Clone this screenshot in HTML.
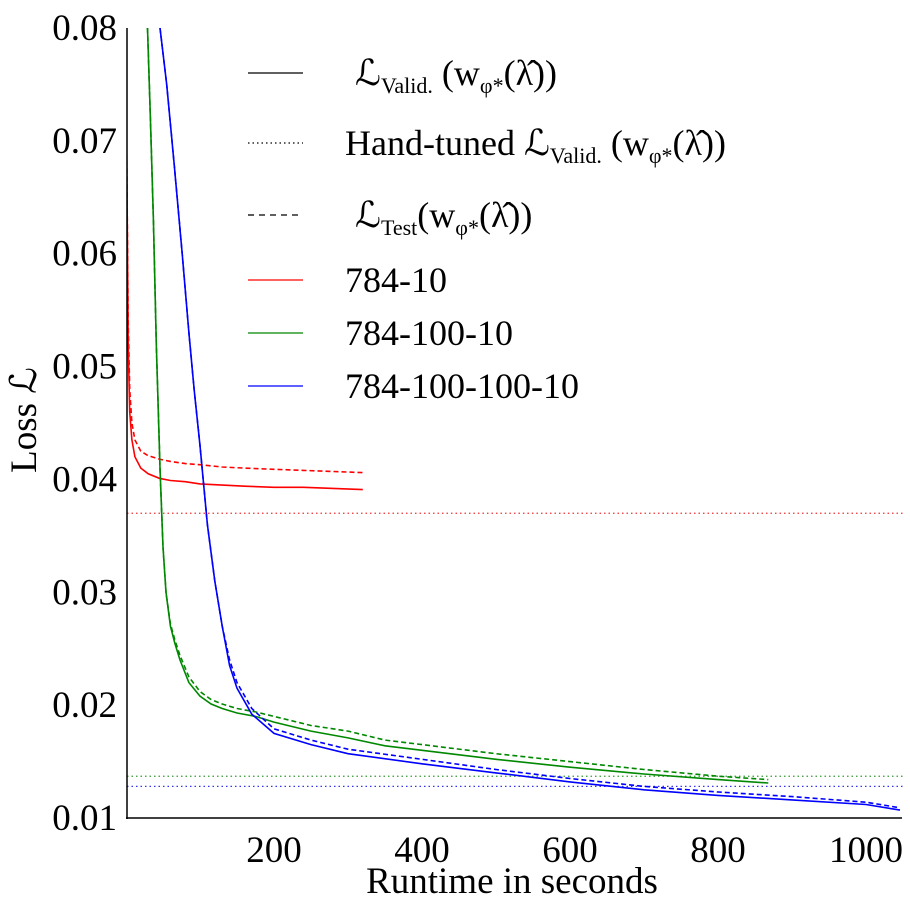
<!DOCTYPE html>
<html><head><meta charset="utf-8"><style>
body{margin:0;background:#fff}
svg text{font-family:"Liberation Serif",serif;fill:#000}
</style></head><body>
<svg id="c" width="910" height="911" xmlns="http://www.w3.org/2000/svg"></svg>
<script>
const xTicks=[200,400,600,800,1000];
const yTicks=[0.01,0.02,0.03,0.04,0.05,0.06,0.07,0.08];
const yTickLabels=["0.01","0.02","0.03","0.04","0.05","0.06","0.07","0.08"];
const redValT=[1,3,5,8,12,20,30,45,60,80,100,130,160,200,240,280,320];
const redValY=[0.069,0.052,0.046,0.0435,0.042,0.041,0.0405,0.0401,0.0399,0.0398,0.0396,0.0395,0.0394,0.0393,0.0393,0.0392,0.0391];
const redTestY=[0.069,0.054,0.048,0.045,0.0435,0.0425,0.0421,0.0418,0.0416,0.0414,0.0413,0.0411,0.041,0.0409,0.0408,0.0407,0.0406];
const greenT=[29,33,37,41,46,50,54,60,66,73,85,100,115,130,150,175,200,250,300,350,400,500,600,700,800,868];
const greenValY=[0.08,0.072,0.063,0.052,0.041,0.034,0.030,0.027,0.0255,0.024,0.022,0.0208,0.0201,0.0197,0.0193,0.019,0.0185,0.0177,0.0171,0.0164,0.016,0.0152,0.0145,0.0139,0.0134,0.0131];
const greenTestY=[0.08,0.072,0.063,0.052,0.041,0.034,0.030,0.0272,0.0258,0.0244,0.0225,0.0212,0.0205,0.0201,0.0197,0.0194,0.019,0.0182,0.0177,0.0169,0.0165,0.0157,0.015,0.0143,0.0137,0.0134];
const blueT=[46,55,65,76,85,92,100,110,120,130,140,150,170,200,250,300,400,500,600,700,800,900,1000,1046];
const blueValY=[0.08,0.075,0.068,0.06,0.053,0.048,0.043,0.036,0.031,0.027,0.0235,0.0215,0.0192,0.0175,0.0165,0.0157,0.0148,0.014,0.0132,0.0125,0.012,0.0116,0.0112,0.0107];
const blueTestY=[0.08,0.075,0.068,0.06,0.053,0.048,0.043,0.036,0.031,0.027,0.024,0.022,0.0197,0.0179,0.0169,0.0161,0.0152,0.0143,0.0135,0.0128,0.0123,0.0119,0.0114,0.0109];
const handTuned=[0.037,0.0137,0.0128];
const handColors=["#e33","#393","#33e"];
const svg=document.getElementById('c');
const NS="http://www.w3.org/2000/svg";
const X0=126,PXS=0.74,Y0=818,PXY=11286;
const sx=t=>X0+t*PXS, sy=v=>Y0-(v-0.01)*PXY;
function el(tag,attrs,txt){const e=document.createElementNS(NS,tag);for(const k in attrs)e.setAttribute(k,attrs[k]);if(txt!==undefined)e.textContent=txt;svg.appendChild(e);return e;}
const defs=document.createElementNS(NS,'clipPath');defs.setAttribute('id','clip');
const r=document.createElementNS(NS,'rect');r.setAttribute('x',127);r.setAttribute('y',28);r.setAttribute('width',780);r.setAttribute('height',790);defs.appendChild(r);svg.appendChild(defs);
handTuned.forEach((v,i)=>{const l=el('line',{x1:127,x2:905,y1:sy(v),y2:sy(v),stroke:handColors[i],'stroke-width':1.3,'stroke-dasharray':'1.5,3'});

});
function series(T,Y,color,dash,name){const d=T.map((t,i)=>(i?'L':'M')+sx(t).toFixed(1)+','+sy(Y[i]).toFixed(1)).join('');
const p=el('path',{d:d,fill:'none',stroke:color,'stroke-width':1.6,'clip-path':'url(#clip)'});if(dash)p.setAttribute('stroke-dasharray','5,3');

}
series(redValT,redTestY,'#f00',true,'red-test-line');series(redValT,redValY,'#f00',false,'red-valid-line');
series(greenT,greenTestY,'#080',true,'green-test-line');series(greenT,greenValY,'#080',false,'green-valid-line');
series(blueT,blueTestY,'#00f',true,'blue-test-line');series(blueT,blueValY,'#00f',false,'blue-valid-line');
el('line',{x1:127,x2:127,y1:28,y2:819,stroke:'#000','stroke-width':1.5});
el('line',{x1:126,x2:902,y1:818,y2:818,stroke:'#000','stroke-width':1.5});
xTicks.forEach(t=>{const e=el('text',{x:sx(t),y:862,'font-size':37,'text-anchor':'middle'},String(t));

});
yTicks.forEach((v,i)=>{const e=el('text',{x:117,y:sy(v)+12,'font-size':37,'text-anchor':'end'},yTickLabels[i]);

});
el('text',{x:512,y:893,'font-size':37,'text-anchor':'middle'},'Runtime in seconds');
el('text',{x:36,y:420,'font-size':37,'text-anchor':'middle',transform:'rotate(-90 36 420)'},'Loss ℒ');
const leg=[[73,'#000',null,'ℒ<tspan font-size="22" dy="8">Valid.</tspan><tspan dy="-8"> (w</tspan><tspan font-size="22" dy="8">φ*</tspan><tspan dy="-8">(λ̂))</tspan>',355],
[143,'#000','1.5,3','Hand-tuned ℒ<tspan font-size="22" dy="8">Valid.</tspan><tspan dy="-8"> (w</tspan><tspan font-size="22" dy="8">φ*</tspan><tspan dy="-8">(λ̂))</tspan>',345],
[215,'#000','6,5','ℒ<tspan font-size="22" dy="8">Test</tspan><tspan dy="-8">(w</tspan><tspan font-size="22" dy="8">φ*</tspan><tspan dy="-8">(λ̂))</tspan>',355],
[280,'#f00',null,'784-10',345],[333,'#080',null,'784-100-10',345],[386,'#00f',null,'784-100-100-10',345]];
leg.forEach(([y,c,da,html,tx])=>{const l=el('line',{x1:248,x2:303,y1:y,y2:y,stroke:c,'stroke-width':1.3});if(da)l.setAttribute('stroke-dasharray',da);

const t=el('text',{x:tx,y:y+12,'font-size':36});t.innerHTML=html;

});
</script>
</body></html>
